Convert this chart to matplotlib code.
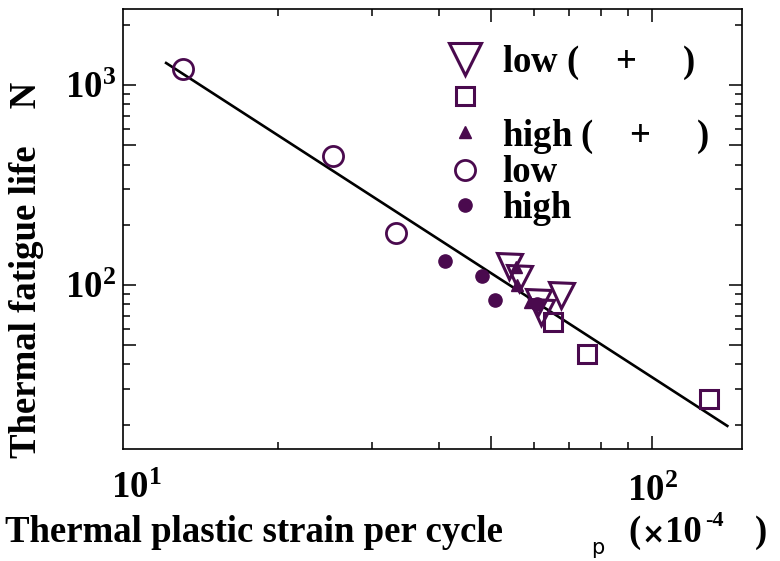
import matplotlib
matplotlib.use("Agg")
import matplotlib.pyplot as plt
from matplotlib.ticker import FixedLocator, NullFormatter, FixedFormatter

plt.rcParams['font.family'] = ['Liberation Serif', 'DejaVu Sans']
plt.rcParams['font.weight'] = 'bold'
plt.rcParams['mathtext.fontset'] = 'custom'
plt.rcParams['mathtext.rm'] = 'Liberation Serif'
plt.rcParams['mathtext.bf'] = 'Liberation Serif:bold'
plt.rcParams['mathtext.it'] = 'Liberation Serif:italic'

# ---------------- data ----------------
low_tri_x = [54.0, 56.4, 61.2, 61.8, 67.6]
low_tri_y = [124.5, 108.4, 82.2, 73.3, 89.1]

square_x = [65.3, 75.6, 127.3]
square_y = [65.3, 45.2, 26.9]

high_tri_x = [55.5, 55.9, 59.1]
high_tri_y = [123.0, 100.0, 82.2]

low_circ_x = [13.28, 25.3, 33.2]
low_circ_y = [1202.0, 441.0, 182.0]

high_circ_x = [41.0, 48.1, 50.9, 60.9]
high_circ_y = [131.8, 110.9, 84.1, 80.4]

fit_x = [12.35, 138.0]
fit_y = [1288.0, 19.7]

legend_labels = [r'low (    $\mathrm{+}$     )', ' ',
                 r'high (    $\mathrm{+}$     )', 'low', 'high']

x_major = [50, 100]
x_minor = [20, 30, 40, 60, 70, 80, 90]
y_major = [50, 100, 500, 1000]
y_minor = [20, 30, 40, 60, 70, 80, 90, 200, 300, 400, 600, 700, 800, 900, 2000]
y_ticklabels = ['', r'$\mathbf{10^{2}}$', '', r'$\mathbf{10^{3}}$']
x_ticklabels = ['', r'$\mathbf{10^{2}}$']

PURPLE = '#4a0a4e'
W, H = 780, 561
FS = 26.5

fig = plt.figure(figsize=(W / 100, H / 100), dpi=100)
ax = fig.add_axes([123 / W, 1 - 449 / H, (742 - 123) / W, (449 - 9) / H])
ax.set_xscale('log')
ax.set_yscale('log')
ax.set_xlim(10.26, 147)
ax.set_ylim(15.1, 2399)

ax.plot(fit_x, fit_y, color='black', lw=1.9, zorder=2)

h1, = ax.plot(low_tri_x, low_tri_y, 'v', ms=18, mfc='none', mec=PURPLE, mew=2.2, zorder=3)
h2, = ax.plot(square_x, square_y, 's', ms=13, mfc='none', mec=PURPLE, mew=2.2, zorder=3)
h3, = ax.plot(high_tri_x, high_tri_y, '^', ms=9, mfc=PURPLE, mec=PURPLE, mew=1, zorder=4)
h4, = ax.plot(low_circ_x, low_circ_y, 'o', ms=14.5, mfc='none', mec=PURPLE, mew=2.0, zorder=3)
h5, = ax.plot(high_circ_x, high_circ_y, 'o', ms=9.5, mfc=PURPLE, mec=PURPLE, mew=1, zorder=4)

ax.xaxis.set_major_locator(FixedLocator(x_major))
ax.xaxis.set_minor_locator(FixedLocator(x_minor))
ax.xaxis.set_major_formatter(FixedFormatter(x_ticklabels))
ax.xaxis.set_minor_formatter(NullFormatter())
ax.yaxis.set_major_locator(FixedLocator(y_major))
ax.yaxis.set_minor_locator(FixedLocator(y_minor))
ax.yaxis.set_major_formatter(FixedFormatter(y_ticklabels))
ax.yaxis.set_minor_formatter(NullFormatter())

ax.tick_params(which='both', direction='in', top=True, right=True, width=1.1, labelsize=FS)
ax.tick_params(which='major', length=9.5, pad=5)
ax.tick_params(which='minor', length=5)
ax.tick_params(axis='x', which='major', pad=18)
for s in ax.spines.values():
    s.set_linewidth(1.2)

# 10^1 label (tick lies just outside the left frame)
fig.text(136 / W, 1 - 489 / H, r'$\mathbf{10^{1}}$', fontsize=FS, ha='center', va='center')

leg = ax.legend([h1, h2, h3, h4, h5], legend_labels, loc='upper left',
                bbox_to_anchor=(447 / W, 1 - 44 / H), bbox_transform=fig.transFigure,
                frameon=False, borderpad=0, borderaxespad=0, handlelength=1.0,
                handletextpad=0.5, labelspacing=0.0,
                prop={'family': 'Liberation Serif', 'weight': 'bold', 'size': FS})
leg.legend_handles[0].set_markersize(23)

# axis labels
fig.text(27 / W, 1 - 270 / H, 'Thermal fatigue life    N', rotation=90, fontsize=FS,
         fontweight='bold', ha='center', va='center')
fig.text(5 / W, 1 - 533 / H, 'Thermal plastic strain per cycle', fontsize=FS,
         fontweight='bold', ha='left', va='center')
fig.text(598 / W, 1 - 548 / H, 'p', fontsize=15, family='DejaVu Sans', fontweight='normal',
         ha='center', va='center')
fig.text(634 / W, 1 - 532 / H, '(', fontsize=FS, fontweight='bold', ha='center', va='center')
fig.text(653 / W, 1 - 535 / H, '\u00d7', fontsize=20, family='DejaVu Sans', fontweight='bold',
         ha='center', va='center')
fig.text(665 / W, 1 - 533 / H, '10', fontsize=FS, fontweight='bold', ha='left', va='center')
fig.text(705 / W, 1 - 521 / H, '-4', fontsize=16, fontweight='bold', ha='left', va='center')
fig.text(761 / W, 1 - 532 / H, ')', fontsize=FS, fontweight='bold', ha='center', va='center')

fig.savefig('out.png', dpi=100)
